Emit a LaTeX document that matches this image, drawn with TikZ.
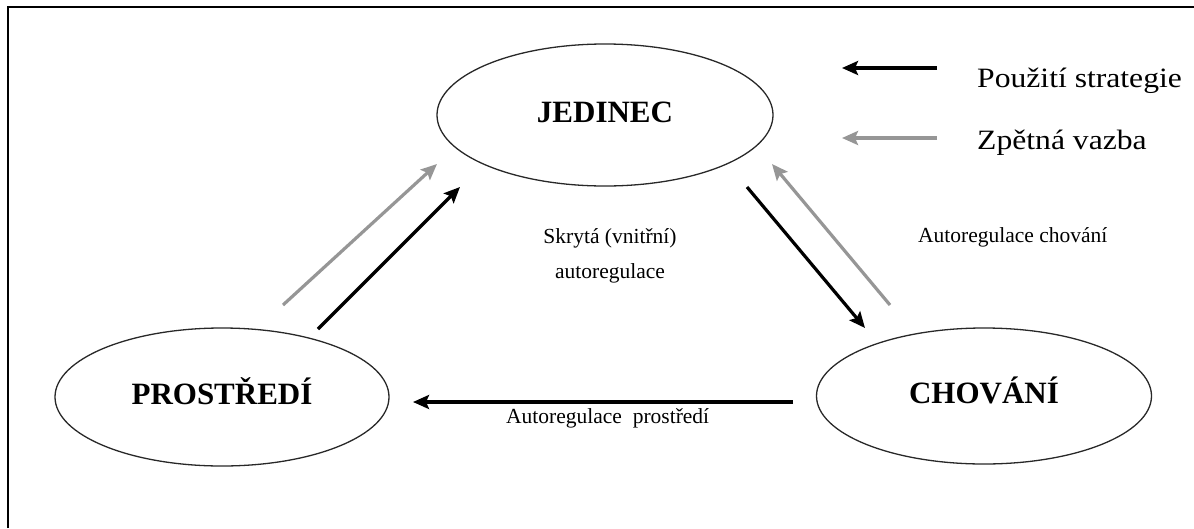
\documentclass[tikz,border=0pt]{standalone}
\usepackage{fontspec}
\setmainfont{Liberation Serif}
\newfontfamily\legfont[FakeStretch=1.13]{Liberation Serif}
\usetikzlibrary{shapes.geometric,arrows.meta}
\definecolor{fbgray}{RGB}{150,150,150}
\definecolor{edgec}{RGB}{40,40,40}
\tikzset{
  ell/.style={draw=edgec, line width=1.3pt, ellipse, inner sep=0pt,
    font=\fontsize{31}{31}\selectfont\bfseries, text height=22pt, text depth=8pt},
  strat/.style={line width=3.2pt, draw=black, -{Stealth[length=16pt,width=14pt,inset=3pt]}},
  feed/.style={strat, draw=fbgray},
  lbl/.style={font=\fontsize{21.5}{26}\selectfont, inner sep=0pt},
  leg/.style={font=\legfont\fontsize{28}{30}\selectfont, inner sep=0pt, anchor=base west}
}
\begin{document}
\begin{tikzpicture}[x=1pt,y=-1pt]
\useasboundingbox (0,0) rectangle (1194,528);
\draw[line width=1.8pt] (8,528) -- (8,7) -- (1194,7);

\node[ell, minimum width=336pt, minimum height=142pt] (jed) at (605,115) {JEDINEC};
\node[ell, minimum width=334pt, minimum height=138pt] (pro) at (222,397) {PROSTŘEDÍ};
\node[ell, minimum width=335pt, minimum height=136pt] (cho) at (984,396) {CHOVÁNÍ};

\coordinate (g1s) at (283,305);
\coordinate (g1e) at (437,164);
\coordinate (b1s) at (318,329);
\coordinate (b1e) at (460,187);
\coordinate (b2s) at (747,187);
\coordinate (b2e) at (865,328);
\coordinate (g2s) at (890,305);
\coordinate (g2e) at (772,164);
\coordinate (b3s) at (793,402);
\coordinate (b3e) at (413,402);
\coordinate (lbs) at (937,68);
\coordinate (lbe) at (842,68);
\coordinate (lgs) at (937,138);
\coordinate (lge) at (842,138);

\draw[feed] (g1s) -- (g1e);
\draw[strat] (b1s) -- (b1e);
\draw[strat] (b2s) -- (b2e);
\draw[feed] (g2s) -- (g2e);
\draw[strat] (b3s) -- (b3e);
\draw[strat] (lbs) -- (lbe);
\draw[feed] (lgs) -- (lge);

\node[lbl, anchor=base] (skr1) at (610,243) {Skrytá (vnitřní)};
\node[lbl, anchor=base] (skr2) at (610,278) {autoregulace};
\node[lbl, anchor=base west] (chl) at (918,242) {Autoregulace chování};
\node[lbl, anchor=base west] (prl) at (506,423) {Autoregulace\ \ prostředí};

\node[leg] (leg1) at (977,87) {Použití strategie};
\node[leg] (leg2) at (977,149) {Zpětná vazba};
\end{tikzpicture}
\end{document}
